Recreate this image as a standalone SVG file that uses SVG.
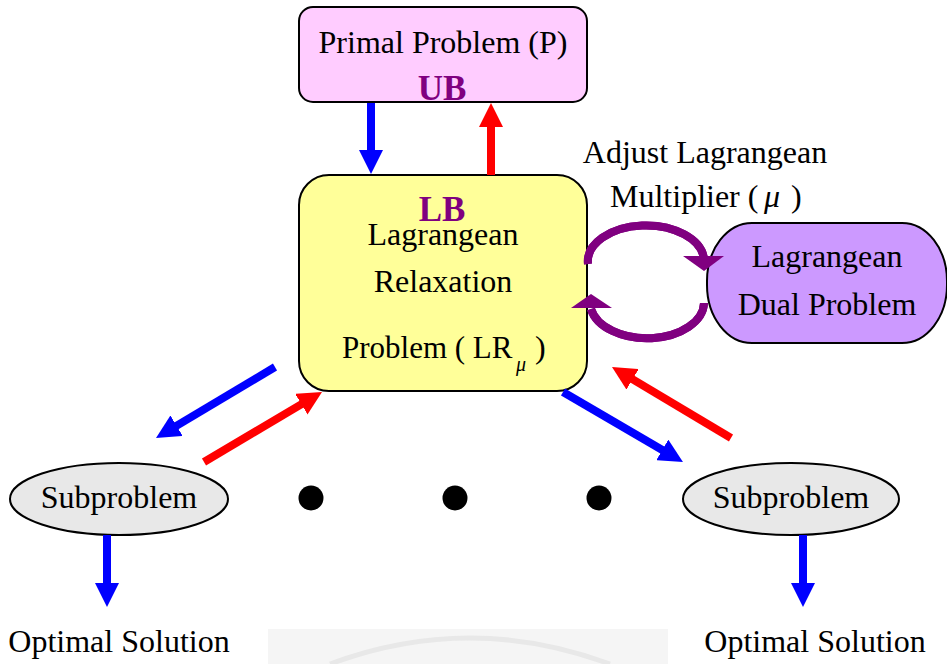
<svg xmlns="http://www.w3.org/2000/svg" width="947" height="664" viewBox="0 0 947 664">
<style>
text{font-family:"Liberation Serif","Times New Roman",serif;font-size:32px;fill:#000;text-anchor:middle}
.b{font-weight:bold;fill:#800080;font-size:35px}
.box{stroke:#000;stroke-width:2}
.blue{stroke:#0000ff;stroke-width:8;fill:none}
.red{stroke:#ff0000;stroke-width:8;fill:none}
.pur{stroke:#800080;stroke-width:8;fill:none}
</style>
<defs>
<marker id="hb" viewBox="0 0 10 10" markerWidth="3" markerHeight="3" refX="5" refY="5" orient="auto" markerUnits="strokeWidth"><path d="M0,0 L10,5 L0,10 z" fill="#0000ff"/></marker>
<marker id="hr" viewBox="0 0 10 10" markerWidth="3" markerHeight="3" refX="5" refY="5" orient="auto" markerUnits="strokeWidth"><path d="M0,0 L10,5 L0,10 z" fill="#ff0000"/></marker>
</defs>
<rect width="947" height="664" fill="#fff"/>
<g id="watermark">
<rect x="268" y="629" width="400" height="35" fill="#f5f5f5"/>
<path d="M330,664 Q470,612 610,664" stroke="#e8e8e8" stroke-width="5" fill="none"/>
</g>
<g id="primal">
<rect class="box" x="299" y="7" width="288" height="95" rx="14" fill="#ffccff"/>
<text x="443" y="53">Primal Problem (P)</text>
<text class="b" x="442" y="100">UB</text>
</g>
<g id="lr">
<rect class="box" x="299" y="175" width="288" height="216" rx="30" fill="#ffff99"/>
<text class="b" x="442" y="221">LB</text>
<text x="443" y="245">Lagrangean</text>
<text x="443" y="292">Relaxation</text>
<text x="342" y="358" style="text-anchor:start;font-size:31px">Problem ( LR</text>
<text x="516" y="371" style="text-anchor:start;font-style:italic;font-size:20px">μ</text>
<text x="535" y="358" style="text-anchor:start">)</text>
</g>
<g id="adjust">
<text x="705" y="163">Adjust Lagrangean</text>
<text x="610" y="207" style="text-anchor:start">Multiplier (</text>
<text x="764" y="207" style="text-anchor:start;font-style:italic">μ</text>
<text x="791" y="207" style="text-anchor:start">)</text>
</g>
<g id="dual">
<rect class="box" x="707" y="223" width="240" height="120" rx="45" ry="58" fill="#cc99ff"/>
<text x="827" y="267">Lagrangean</text>
<text x="827" y="315">Dual Problem</text>
</g>
<g id="sub1">
<ellipse class="box" cx="119" cy="499" rx="109" ry="36" fill="#e8e8e8"/>
<text x="119" y="508">Subproblem</text>
</g>
<g id="sub2">
<ellipse class="box" cx="791" cy="499" rx="108" ry="36" fill="#e8e8e8"/>
<text x="791" y="508">Subproblem</text>
</g>
<g id="dots" fill="#000">
<circle cx="311" cy="498" r="12.5"/>
<circle cx="455" cy="498" r="12.5"/>
<circle cx="599" cy="498" r="12.5"/>
</g>
<g id="opt1"><text x="119" y="652">Optimal Solution</text></g>
<g id="opt2"><text x="815" y="652">Optimal Solution</text></g>
<g id="connectors">
<line class="blue" x1="371" y1="103" x2="371" y2="162" marker-end="url(#hb)"/>
<line class="red" x1="491" y1="175" x2="491" y2="115" marker-end="url(#hr)"/>
<line class="blue" x1="275" y1="367" x2="166.3" y2="431.9" marker-end="url(#hb)"/>
<line class="red" x1="204" y1="462" x2="311.7" y2="398.1" marker-end="url(#hr)"/>
<line class="blue" x1="563" y1="392" x2="672.6" y2="456" marker-end="url(#hb)"/>
<line class="red" x1="731" y1="438" x2="622.3" y2="373.1" marker-end="url(#hr)"/>
<line class="blue" x1="107" y1="535" x2="107" y2="595" marker-end="url(#hb)"/>
<line class="blue" x1="803" y1="535" x2="803" y2="595" marker-end="url(#hb)"/>
<path class="pur" d="M588,264 A58,36 0 0 1 704,259" stroke="#993399" stroke-width="9"/>
<path class="pur" d="M588,264 A58,36 0 0 1 704,259" stroke-width="6"/>
<polygon points="683,256 724,256 704,271" fill="#800080"/>
<path class="pur" d="M704,303 A57,36 0 0 1 591,309" stroke="#993399" stroke-width="9"/>
<path class="pur" d="M704,303 A57,36 0 0 1 591,309" stroke-width="6"/>
<polygon points="571,308 612,308 591,294" fill="#800080"/>
</g>
</svg>
